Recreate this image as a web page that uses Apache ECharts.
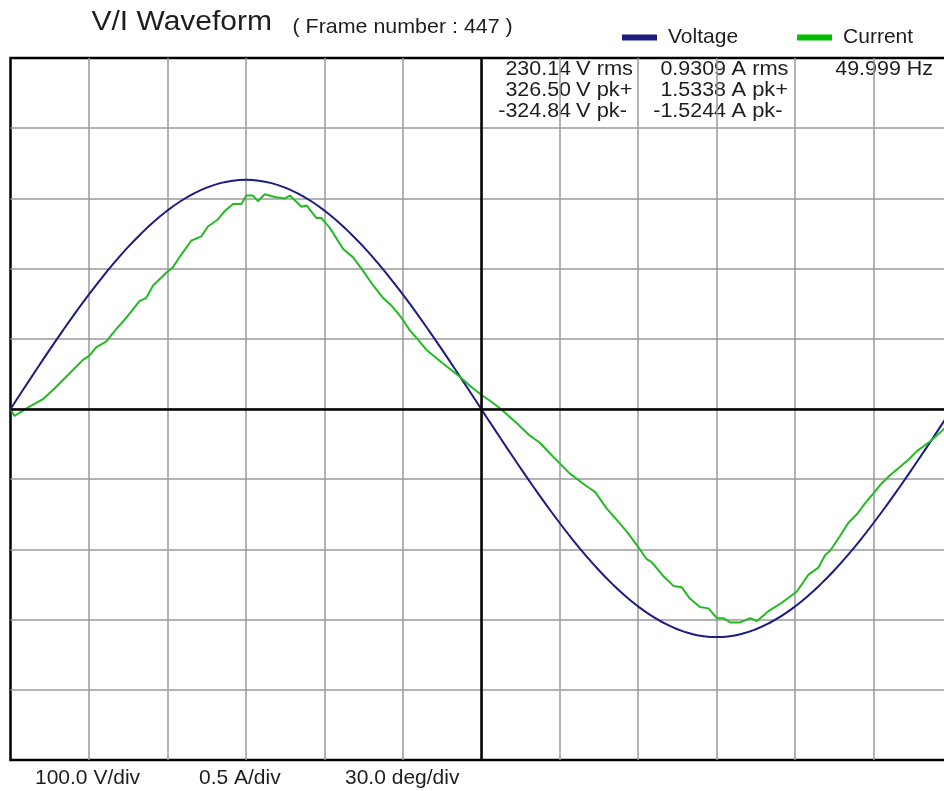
<!DOCTYPE html>
<html>
<head>
<meta charset="utf-8">
<title>V/I Waveform</title>
<script src="https://cdn.jsdelivr.net/npm/echarts@6/dist/echarts.min.js"></script>
<style>
    html, body { margin: 0; padding: 0; background: #fff; }
    #waveChart { width: 944px; height: 791px; }
</style>
</head>
<body>
<div id="waveChart"></div>
<script>
// 电压波形 (deg / V)
var voltDeg = [0, 5, 10, 15, 20, 25, 30, 35, 40, 45, 50, 55, 60, 65, 70, 75, 80, 85, 90,
    95, 100, 105, 110, 115, 120, 125, 130, 135, 140, 145, 150, 155, 160, 165, 170, 175, 180,
    185, 190, 195, 200, 205, 210, 215, 220, 225, 230, 235, 240, 245, 250, 255, 260, 265, 270,
    275, 280, 285, 290, 295, 300, 305, 310, 315, 320, 325, 330, 335, 340, 345, 350, 355, 360];
var voltVal = [0, 28.5, 56.7, 84.5, 111.7, 138.0, 163.3, 187.3, 209.9, 230.9, 250.1, 267.5, 282.8, 295.9, 306.8, 315.4, 321.5, 325.3, 326.5,
    325.3, 321.5, 315.4, 306.8, 295.9, 282.8, 267.5, 250.1, 230.9, 209.9, 187.3, 163.3, 138.0, 111.7, 84.5, 56.7, 28.5, 0,
    -28.3, -56.4, -84.1, -111.1, -137.3, -162.4, -186.3, -208.8, -229.7, -248.8, -266.1, -281.3, -294.4, -305.2, -313.7, -319.9, -323.6, -324.8,
    -323.6, -319.9, -313.7, -305.2, -294.4, -281.3, -266.1, -248.8, -229.7, -208.8, -186.3, -162.4, -137.3, -111.1, -84.1, -56.4, -28.3, 0];

// 电流波形 (deg / A)
var curDeg = [0, 1.5, 4, 6.6, 12.4, 17, 21.3, 27.7, 30.2, 32.8, 36.6, 40, 44.3, 49.4, 51.9, 54.5, 59.6, 62.1, 65.3, 69.2,
    73, 75.5, 79.3, 81.9, 85.1, 88.3, 90.2, 92.7, 94.6, 97.2, 101, 104.9, 106.8, 111.3, 113.2, 117, 118.9, 122.1, 127.2, 131,
    134.2, 138.7, 142.5, 146, 149.5, 152.7, 156, 159.1, 165, 171.8, 176, 180.1, 184, 187.5, 193.5, 198.6, 202.4, 207.5, 213.9, 220.3,
    223.5, 228, 231.8, 235.5, 239.5, 243.3, 245.2, 249.6, 253.5, 256.7, 259.8, 263.6, 266.9, 270.1, 272.6, 275.2, 279, 282.8, 285.4, 289.8,
    294.9, 300.7, 305.1, 308.9, 311.5, 313.4, 317, 320.4, 323.6, 326.8, 330, 332.6, 336.4, 339.6, 343.4, 346.6, 351.7, 357.1, 360];
var curVal = [0, -0.05, -0.02, 0.01, 0.07, 0.15, 0.23, 0.35, 0.38, 0.44, 0.48, 0.56, 0.65, 0.77, 0.79, 0.88, 0.97, 1.01, 1.10, 1.20,
    1.23, 1.30, 1.35, 1.41, 1.46, 1.46, 1.52, 1.52, 1.48, 1.53, 1.51, 1.50, 1.52, 1.44, 1.45, 1.36, 1.36, 1.29, 1.14, 1.08,
    1.00, 0.88, 0.79, 0.73, 0.65, 0.56, 0.49, 0.42, 0.33, 0.23, 0.16, 0.10, 0.05, 0.00, -0.10, -0.19, -0.24, -0.34, -0.46, -0.55,
    -0.59, -0.71, -0.79, -0.87, -0.97, -1.07, -1.09, -1.19, -1.26, -1.27, -1.35, -1.41, -1.42, -1.49, -1.49, -1.52, -1.52, -1.49, -1.51, -1.44,
    -1.38, -1.30, -1.18, -1.13, -1.04, -1.01, -0.91, -0.81, -0.75, -0.67, -0.60, -0.54, -0.47, -0.42, -0.36, -0.30, -0.23, -0.14, -0.10];

// 统计值
var voltStats = ['230.14', '326.50', '-324.84'];
var voltUnits = ['V rms', 'V pk+', 'V pk-'];
var ampStats = ['0.9309', '1.5338', '-1.5244'];
var ampUnits = ['A rms', 'A pk+', 'A pk-'];
var freqStat = '49.999 Hz';
var scaleLabels = ['100.0 V/div', '0.5 A/div', '30.0 deg/div'];
var frameNo = 447;

var FONT = '"Liberation Sans", Arial, sans-serif';
var TXT = '#1e1e1e';

function pairs(xs, ys) {
    var out = [];
    for (var i = 0; i < xs.length; i++) {
        out.push([xs[i], ys[i]]);
    }
    return out;
}

function txt(x, y, s, size, align, sx) {
    return {
        type: 'text', x: x, y: y, scaleX: sx || 1, silent: true,
        style: { text: s, fill: TXT, font: size + 'px ' + FONT, textAlign: align || 'left', textVerticalAlign: 'middle' }
    };
}

var graphics = [];
//标题
graphics.push(txt(91.5, 23, 'V/I Waveform', 27, 'left', 1.11));
graphics.push(txt(292.5, 27.5, '( Frame number : ' + frameNo + ' )', 21, 'left', 1.02));
//右上角统计值
var rowY = [70, 91, 112];
for (var i = 0; i < rowY.length; i++) {
    graphics.push(txt(571, rowY[i], voltStats[i], 19.5, 'right', 1.1));
    graphics.push(txt(576, rowY[i], voltUnits[i], 19.5, 'left', 1.12));
    graphics.push(txt(726, rowY[i], ampStats[i], 19.5, 'right', 1.1));
    graphics.push(txt(731.5, rowY[i], ampUnits[i], 19.5, 'left', 1.12));
}
graphics.push(txt(933, rowY[0], freqStat, 19.5, 'right', 1.1));
//底部刻度说明
var labelX = [35, 199, 345];
for (var j = 0; j < scaleLabels.length; j++) {
    graphics.push(txt(labelX[j], 778, scaleLabels[j], 21, 'left', 1));
}

var gridLine = { show: true, showMinLine: false, showMaxLine: false, lineStyle: { color: '#9a9a9a', width: 1.5 } };

var chart = echarts.init(document.getElementById('waveChart'), null, { renderer: 'canvas' });
var option = {
    animation: false,
    backgroundColor: '#fff',
    legend: {
        left: 617,
        top: 22,
        icon: 'rect',
        itemWidth: 35,
        itemHeight: 6,
        itemGap: 59,
        textStyle: { fontFamily: FONT, fontSize: 21, color: TXT, padding: [0, 0, 0, 6] },
        data: ['Voltage', 'Current']
    },
    //右边界超出画布(360°在x≈952处)
    grid: {
        left: 10.5,
        top: 58,
        width: 941.5,
        height: 702,
        show: true,
        borderColor: '#000',
        borderWidth: 2.5,
        outerBoundsMode: 'none',
        containLabel: false
    },
    xAxis: {
        type: 'value', min: 0, max: 360, interval: 30,
        axisLabel: { show: false }, axisTick: { show: false }, axisLine: { show: false },
        splitLine: gridLine
    },
    yAxis: [
        {
            type: 'value', min: -500, max: 500, interval: 100,
            axisLabel: { show: false }, axisTick: { show: false }, axisLine: { show: false },
            splitLine: gridLine
        },
        {
            type: 'value', min: -2.5, max: 2.5, interval: 0.5, show: false,
            splitLine: { show: false }
        }
    ],
    series: [
        {
            name: 'Voltage',
            type: 'line',
            yAxisIndex: 0,
            smooth: true,
            showSymbol: false,
            color: '#1c1c82',
            lineStyle: { color: '#1c1c82', width: 2 },
            data: pairs(voltDeg, voltVal),
            markLine: {
                silent: true,
                symbol: 'none',
                label: { show: false },
                lineStyle: { color: '#000', width: 2.5, type: 'solid' },
                data: [{ xAxis: 180 }, { yAxis: 0 }]
            },
            z: 3
        },
        {
            name: 'Current',
            type: 'line',
            yAxisIndex: 1,
            showSymbol: false,
            color: '#00c000',
            lineStyle: { color: '#22bb22', width: 2 },
            data: pairs(curDeg, curVal),
            z: 4
        }
    ],
    graphic: graphics
};
chart.setOption(option);
</script>
</body>
</html>
